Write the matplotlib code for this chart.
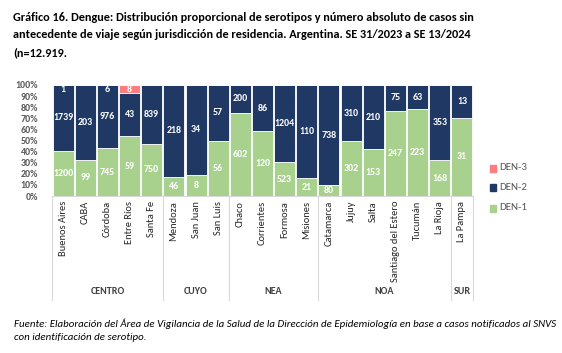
import matplotlib
matplotlib.use("Agg")
import matplotlib.pyplot as plt
import numpy as np
from matplotlib.patches import Rectangle

FAM = ['Carlito', 'Liberation Sans Narrow', 'Lato', 'DejaVu Sans']
plt.rcParams['font.family'] = FAM

provinces = ["Buenos Aires", "CABA", "Córdoba", "Entre Ríos", "Santa Fe",
             "Mendoza", "San Juan", "San Luis",
             "Chaco", "Corrientes", "Formosa", "Misiones",
             "Catamarca", "Jujuy", "Salta", "Santiago del Estero", "Tucumán", "La Rioja",
             "La Pampa"]
den1 = [1200, 99, 745, 59, 750, 46, 8, 56, 602, 120, 523, 21, 80, 302, 153, 247, 223, 168, 31]
den2 = [1739, 203, 976, 43, 839, 218, 34, 57, 200, 86, 1204, 110, 738, 310, 210, 75, 63, 353, 13]
den3 = [1, 0, 6, 8, 0, 0, 0, 0, 0, 0, 0, 0, 0, 0, 0, 0, 0, 0, 0]
regions = ["CENTRO", "CUYO", "NEA", "NOA", "SUR"]
region_sizes = [5, 3, 4, 6, 1]
yticks = [0, 10, 20, 30, 40, 50, 60, 70, 80, 90, 100]

C1, C2, C3 = "#A9D18E", "#203864", "#FF7C80"
GRAY = "#595959"

W, H = 562, 353
fig = plt.figure(figsize=(W / 100, H / 100), dpi=100)

def px(x, y):
    return x / W, 1 - y / H

ax = fig.add_axes([52 / W, 1 - 196 / H, 421 / W, 111 / H])
d1 = np.array(den1, float); d2 = np.array(den2, float); d3 = np.array(den3, float)
tot = d1 + d2 + d3
p1 = d1 / tot * 100; p2 = d2 / tot * 100; p3 = d3 / tot * 100
x = np.arange(len(provinces))
bw = 0.95
ax.bar(x, p1, bw, color=C1, edgecolor="white", linewidth=0.6, label="DEN-1")
ax.bar(x, p2, bw, bottom=p1, color=C2, edgecolor="white", linewidth=0.6, label="DEN-2")
ax.bar(x, p3, bw, bottom=p1 + p2, color=C3, edgecolor="white", linewidth=0.6, label="DEN-3")

lab = dict(color="white", fontsize=7.2, fontweight="bold", ha="center", va="center")
for i in range(len(x)):
    ax.text(x[i], p1[i] / 2, str(den1[i]), **lab)
    ax.text(x[i], p1[i] + p2[i] / 2, str(den2[i]), **lab)
    if den3[i] > 0:
        yy = p1[i] + p2[i] + p3[i] / 2
        yy = min(yy, 95.5)
        ax.text(x[i], yy, str(den3[i]), **lab)

ax.set_xlim(-0.5, len(x) - 0.5)
ax.set_ylim(0, 100)
ax.set_yticks(yticks)
ax.set_yticklabels([f"{v}%" for v in yticks], fontsize=7.2, color=GRAY, fontweight="bold")
ax.tick_params(axis="y", length=0, pad=10)
ax.set_xticks([])
for s in ["top", "right", "left"]:
    ax.spines[s].set_visible(False)
ax.spines["bottom"].set_color("#D9D9D9")

# category labels
for i, name in enumerate(provinces):
    xf = (52 + (i + 0.5) * 421 / len(x)) / W
    fig.text(xf, 1 - 201 / H, name, rotation=90, ha="center", va="top",
             fontsize=7.5, color="#262626")

# group separators and labels
bounds = np.concatenate([[0], np.cumsum(region_sizes)])
for b in bounds:
    xf = (52 + b * 421 / len(x)) / W
    fig.add_artist(plt.Line2D([xf, xf], [1 - 196 / H, 1 - 300 / H], color="#D9D9D9", lw=0.8))
for r, a, b in zip(regions, bounds[:-1], bounds[1:]):
    xf = (52 + (a + b) / 2 * 421 / len(x)) / W
    fig.text(xf, 1 - 292 / H, r, ha="center", va="center", fontsize=7.2,
             fontweight="bold", color="#404040")

# legend
for name, c, y in [("DEN-3", C3, 168), ("DEN-2", C2, 187), ("DEN-1", C1, 208)]:
    fig.add_artist(Rectangle(px(490, y + 3.5), 6 / W, 7 / H, color=c, transform=fig.transFigure))
    fig.text(*px(499, y), name, ha="left", va="center", fontsize=7.8, color=GRAY)

title_lines = ["Gráfico 16. Dengue: Distribución proporcional de serotipos y número absoluto de casos sin",
               "antecedente de viaje según jurisdicción de residencia. Argentina. SE 31/2023 a SE 13/2024",
               "(n=12.919."]
for k, line in enumerate(title_lines):
    fig.text(*px(13, 21 + k * 17.5), line, ha="left", va="baseline", fontsize=8.8,
             fontweight="bold", color="#000000")

foot_lines = ["Fuente: Elaboración del Área de Vigilancia de la Salud de la Dirección de Epidemiología en base a casos notificados al SNVS",
              "con identificación de serotipo."]
for k, line in enumerate(foot_lines):
    fig.text(*px(14, 327 + k * 13), line, ha="left", va="baseline", fontsize=7.8,
             style="italic", color="#000000")

fig.savefig("out.png", dpi=100)
